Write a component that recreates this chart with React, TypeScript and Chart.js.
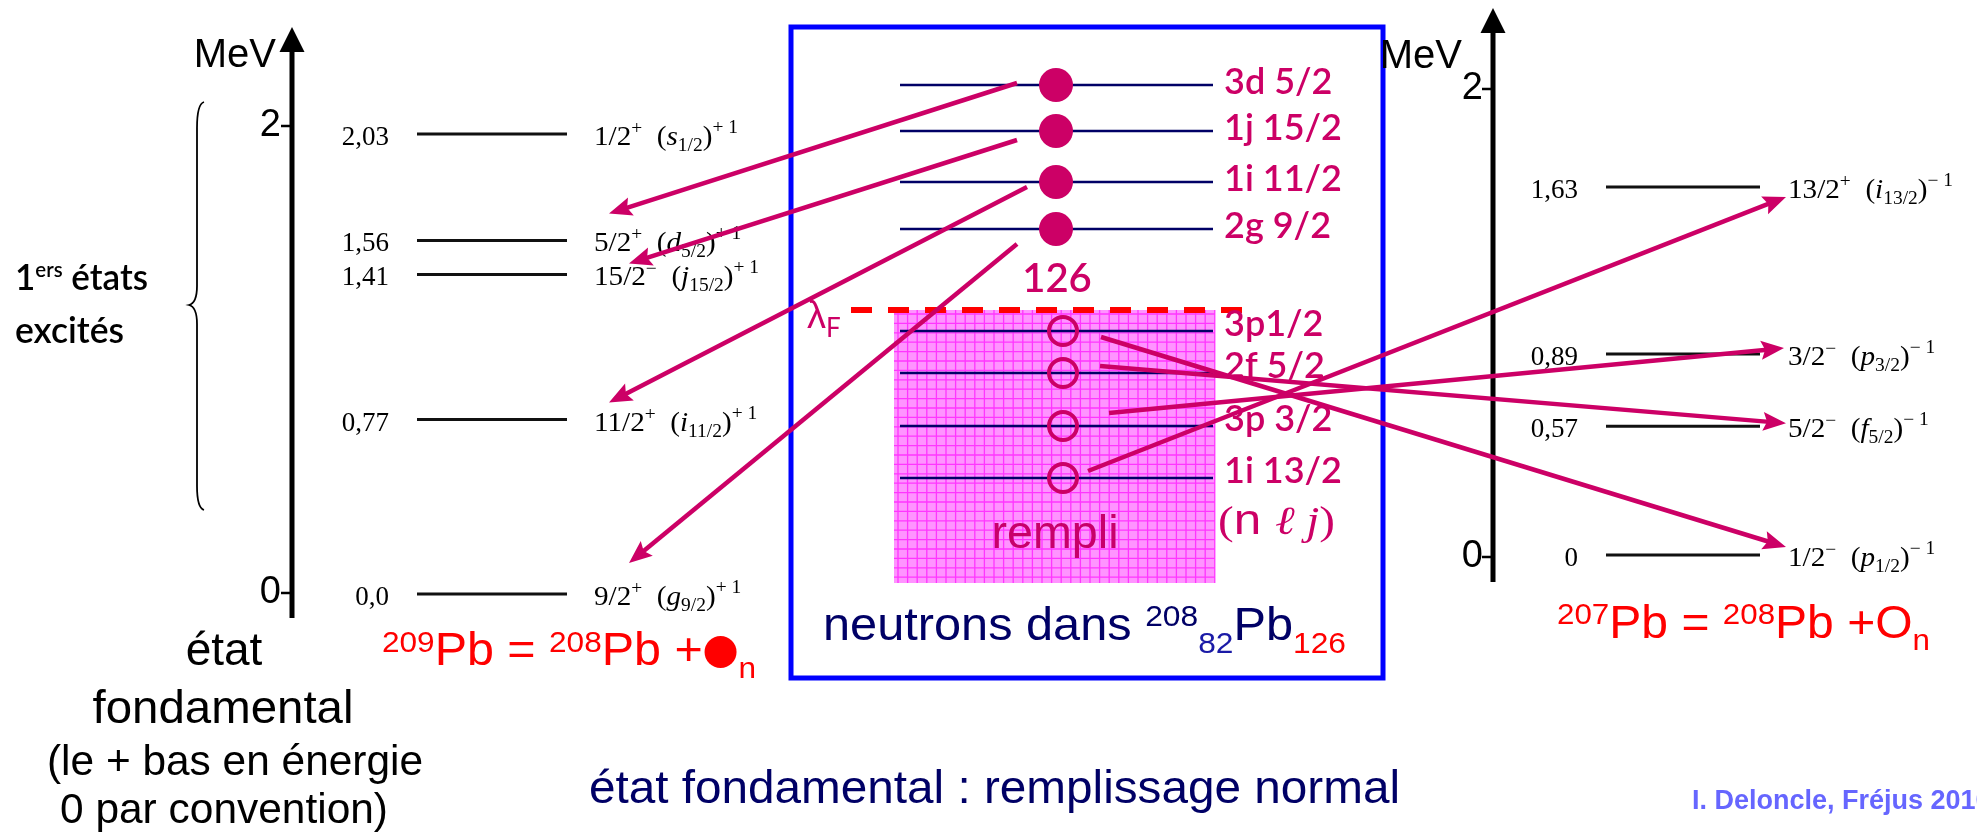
import React, { useEffect, useRef } from "react";
import { Chart, registerables } from "chart.js";

Chart.register(...registerables);

const W = 1977;
const H = 836;

const SANS = "'Liberation Sans', Arial, Helvetica, sans-serif";
const SERIF = "'Liberation Serif', 'Times New Roman', serif";
const ROUND = "Lato, 'Noto Sans', sans-serif";

const MAGENTA = "#CC0066";
const NAVY = "#000066";
const RED = "#FF0000";

// ---------- DATA ----------
// 209Pb = 208Pb + 1 neutron (particle states), energies in MeV
const leftEnergies = [2.03, 1.56, 1.41, 0.77, 0.0];
const leftEnergyLabels = ["2,03", "1,56", "1,41", "0,77", "0,0"];
const leftSpins = ["1/2", "5/2", "15/2", "11/2", "9/2"];
const leftParities = ["+", "+", "\u2212", "+", "+"];
const leftOrbitals = ["s", "d", "j", "i", "g"];

// 207Pb = 208Pb - 1 neutron (hole states), energies in MeV
const rightEnergies = [1.63, 0.89, 0.57, 0];
const rightEnergyLabels = ["1,63", "0,89", "0,57", "0"];
const rightSpins = ["13/2", "3/2", "5/2", "1/2"];
const rightParities = ["+", "\u2212", "\u2212", "\u2212"];
const rightOrbitals = ["i", "p", "f", "p"];

const axisTicks = [0, 2];

// shell-model neutron orbitals in 208Pb (schematic energy, arbitrary units)
const shellAbove = ["3d 5/2", "1j 15/2", "1i 11/2", "2g 9/2"];
const shellAboveE = [10.3, 9.38, 8.36, 7.42];
const shellBelow = ["3p1/2", "2f 5/2", "3p 3/2", "1i 13/2"];
const shellBelowE = [5.38, 4.54, 3.48, 2.44];
const fermiE = 5.8;
const filledBottomE = 0.34;
const magicNumber = "126";

// transitions: orbital index -> level index
const particleTargets = [1, 2, 3, 4];
const holeTargets = [3, 2, 1, 0];

// ---------- LAYOUT (pixels) ----------
const L = { axisX: 292, axisTop: 27, axisBottom: 618, tickLabelRight: 281, lineX1: 417, lineX2: 567, numRight: 389, labelX: 594 };
const R = { axisX: 1493, axisTop: 8, axisBottom: 582, tickLabelRight: 1483, lineX1: 1606, lineX2: 1760, numRight: 1578, labelX: 1788 };
const M = { lineX1: 900, lineX2: 1213, particleX: 1056, holeX: 1063, labelX: 1224, rectX1: 894, rectX2: 1215, fermiX1: 851, fermiX2: 1246 };
const BOX = { x1: 791, y1: 27, x2: 1383, y2: 678 };
const particleArrowOff = [
  { sx: -39, sy: -2, ex: 15, ey: -27 },
  { sx: -39, sy: 9, ex: 35, ey: -11 },
  { sx: -29, sy: 5, ex: 15, ey: -17 },
  { sx: -39, sy: 15, ex: 35, ey: -31 },
];
const holeArrowOff = [
  { sx: 38, sy: 6, ex: -2, ey: -8 },
  { sx: 37, sy: -7, ex: -2, ey: -3 },
  { sx: 46, sy: -13, ex: -4, ey: -6 },
  { sx: 25, sy: -7, ex: -2, ey: 10 },
];

type Seg = { t?: string; font?: string; dy?: number; color?: string; circle?: number; w?: number; cdy?: number };

function drawRich(
  ctx: CanvasRenderingContext2D,
  segs: Seg[],
  x: number,
  y: number,
  o: { align?: "left" | "right" | "center"; scaleX?: number; width?: number; color: string }
) {
  ctx.save();
  const widths = segs.map((s) => {
    if (s.circle) return s.w || 0;
    ctx.font = s.font || `20px ${SANS}`;
    return ctx.measureText(s.t || "").width;
  });
  const total = widths.reduce((a, b) => a + b, 0);
  const sx = o.width ? o.width / total : o.scaleX ?? 1;
  const tw = total * sx;
  let x0 = x;
  if (o.align === "right") x0 = x - tw;
  else if (o.align === "center") x0 = x - tw / 2;
  ctx.translate(x0, y);
  ctx.scale(sx, 1);
  ctx.textAlign = "left";
  ctx.textBaseline = "alphabetic";
  let cx = 0;
  segs.forEach((s, i) => {
    const col = s.color || o.color;
    ctx.fillStyle = col;
    if (s.circle) {
      ctx.beginPath();
      ctx.ellipse(cx + (s.w || 0) / 2, s.cdy || 0, s.circle / sx, s.circle, 0, 0, Math.PI * 2);
      ctx.fill();
    } else {
      ctx.font = s.font || `20px ${SANS}`;
      ctx.fillText(s.t || "", cx, s.dy || 0);
    }
    cx += widths[i];
  });
  ctx.restore();
}

function stateSegs(spin: string, parity: string, orb: string, sign: string): Seg[] {
  return [
    { t: spin, font: `27px ${SERIF}` },
    { t: parity, font: `18px ${SERIF}`, dy: -11 },
    { t: "  (", font: `27px ${SERIF}` },
    { t: orb, font: `italic 27px ${SERIF}` },
    { t: spin, font: `18px ${SERIF}`, dy: 6 },
    { t: ")", font: `27px ${SERIF}` },
    { t: sign + " 1", font: `18px ${SERIF}`, dy: -12 },
  ];
}

function arrow(ctx: CanvasRenderingContext2D, x1: number, y1: number, x2: number, y2: number) {
  const hl = 23;
  const hw = 9.5;
  const a = Math.atan2(y2 - y1, x2 - x1);
  const c = Math.cos(a);
  const s = Math.sin(a);
  const bx = x2 - hl * c;
  const by = y2 - hl * s;
  ctx.save();
  ctx.strokeStyle = MAGENTA;
  ctx.fillStyle = MAGENTA;
  ctx.lineWidth = 4.5;
  ctx.beginPath();
  ctx.moveTo(x1, y1);
  ctx.lineTo(bx + 6 * c, by + 6 * s);
  ctx.stroke();
  ctx.beginPath();
  ctx.moveTo(x2, y2);
  ctx.lineTo(bx + hw * s, by - hw * c);
  ctx.lineTo(bx + 4 * c, by + 4 * s);
  ctx.lineTo(bx - hw * s, by + hw * c);
  ctx.closePath();
  ctx.fill();
  ctx.restore();
}

function drawAxis(ctx: CanvasRenderingContext2D, scale: any, g: typeof L) {
  ctx.save();
  ctx.strokeStyle = "#000";
  ctx.fillStyle = "#000";
  ctx.lineWidth = 5;
  ctx.beginPath();
  ctx.moveTo(g.axisX, g.axisBottom);
  ctx.lineTo(g.axisX, g.axisTop + 20);
  ctx.stroke();
  ctx.beginPath();
  ctx.moveTo(g.axisX, g.axisTop);
  ctx.lineTo(g.axisX - 12.5, g.axisTop + 25);
  ctx.lineTo(g.axisX + 12.5, g.axisTop + 25);
  ctx.closePath();
  ctx.fill();
  ctx.lineWidth = 2.5;
  axisTicks.forEach((v) => {
    const y = scale.getPixelForValue(v);
    ctx.beginPath();
    ctx.moveTo(g.axisX - 11, y);
    ctx.lineTo(g.axisX, y);
    ctx.stroke();
    ctx.font = `38px ${SANS}`;
    ctx.textAlign = "right";
    ctx.textBaseline = "middle";
    ctx.fillText(String(v), g.tickLabelRight, y);
  });
  ctx.restore();
}

const diagramPlugin = {
  id: "diagram",
  beforeDatasetsDraw(chart: any) {
    const ctx: CanvasRenderingContext2D = chart.ctx;
    const s = chart.scales;
    const yM = (v: number) => s.yM.getPixelForValue(v);

    // blue frame
    ctx.save();
    ctx.strokeStyle = "#0000FF";
    ctx.lineWidth = 5;
    ctx.strokeRect(BOX.x1, BOX.y1, BOX.x2 - BOX.x1, BOX.y2 - BOX.y1);
    ctx.restore();

    // filled (occupied) region with grid texture
    const top = yM(fermiE);
    const bot = yM(filledBottomE);
    ctx.save();
    ctx.fillStyle = "#FF94FF";
    ctx.fillRect(M.rectX1, top, M.rectX2 - M.rectX1, bot - top);
    ctx.strokeStyle = "rgba(255,30,255,0.8)";
    ctx.lineWidth = 1.3;
    ctx.beginPath();
    for (let x = M.rectX1 + 4; x < M.rectX2; x += 9.6) {
      ctx.moveTo(x, top);
      ctx.lineTo(x, bot);
    }
    for (let y = top + 4; y < bot; y += 9.4) {
      ctx.moveTo(M.rectX1, y);
      ctx.lineTo(M.rectX2, y);
    }
    ctx.stroke();
    ctx.restore();

    // Fermi level
    ctx.save();
    ctx.strokeStyle = RED;
    ctx.lineWidth = 6;
    ctx.setLineDash([21, 16]);
    ctx.beginPath();
    ctx.moveTo(M.fermiX1, top);
    ctx.lineTo(M.fermiX2, top);
    ctx.stroke();
    ctx.restore();

    // axes
    drawAxis(ctx, s.yLa, L);
    drawAxis(ctx, s.yRa, R as any);

    // brace
    ctx.save();
    ctx.strokeStyle = "#000";
    ctx.lineWidth = 1.8;
    ctx.beginPath();
    ctx.moveTo(204, 102);
    ctx.quadraticCurveTo(197, 104, 197, 128);
    ctx.lineTo(197, 286);
    ctx.quadraticCurveTo(197, 303, 189, 305);
    ctx.quadraticCurveTo(197, 307, 197, 324);
    ctx.lineTo(197, 486);
    ctx.quadraticCurveTo(197, 508, 204, 510);
    ctx.stroke();
    ctx.restore();
  },
  afterDatasetsDraw(chart: any) {
    const ctx: CanvasRenderingContext2D = chart.ctx;
    const s = chart.scales;
    const yM = (v: number) => s.yM.getPixelForValue(v);
    const yL = (v: number) => s.yL.getPixelForValue(v);
    const yR = (v: number) => s.yR.getPixelForValue(v);

    // MeV labels
    drawRich(ctx, [{ t: "MeV", font: `40px ${SANS}` }], 276, 67, { align: "right", color: "#000" });
    drawRich(ctx, [{ t: "MeV", font: `40px ${SANS}` }], 1462, 68, { align: "right", color: "#000" });

    // left level labels
    leftEnergies.forEach((e, i) => {
      const y = yL(e) + 11;
      drawRich(ctx, [{ t: leftEnergyLabels[i], font: `27px ${SERIF}` }], L.numRight, y, { align: "right", scaleX: 1.0, color: "#000" });
      drawRich(ctx, stateSegs(leftSpins[i], leftParities[i], leftOrbitals[i], "+"), L.labelX, y, { scaleX: 1.08, color: "#000" });
    });
    // right level labels
    rightEnergies.forEach((e, i) => {
      const y = yR(e) + 11;
      drawRich(ctx, [{ t: rightEnergyLabels[i], font: `27px ${SERIF}` }], R.numRight, y, { align: "right", scaleX: 1.0, color: "#000" });
      drawRich(ctx, stateSegs(rightSpins[i], rightParities[i], rightOrbitals[i], "\u2212"), R.labelX, y, { scaleX: 1.08, color: "#000" });
    });

    // shell labels
    shellAbove.forEach((t, i) => {
      drawRich(ctx, [{ t, font: `600 36px ${ROUND}` }], M.labelX, yM(shellAboveE[i]) + 9, { color: MAGENTA });
    });
    shellBelow.forEach((t, i) => {
      drawRich(ctx, [{ t, font: `600 36px ${ROUND}` }], M.labelX, yM(shellBelowE[i]) + 5, { color: MAGENTA });
    });
    drawRich(ctx, [{ t: magicNumber, font: `600 40px ${ROUND}` }], 1057, 292, { align: "center", color: MAGENTA });
    drawRich(
      ctx,
      [
        { t: "\u03BB", font: `38px ${SANS}` },
        { t: "F", font: `26px ${ROUND}`, dy: 9 },
      ],
      807,
      yM(fermiE) + 18,
      { color: MAGENTA }
    );
    drawRich(ctx, [{ t: "rempli", font: `46px ${SANS}` }], 1055, 548, { align: "center", width: 127, color: "#C8006A" });
    drawRich(
      ctx,
      [
        { t: "(", font: `40px ${SERIF}` },
        { t: "n ", font: `42px ${SANS}` },
        { t: "\u2113", font: `italic 40px ${SERIF}` },
        { t: " ", font: `40px ${SERIF}` },
        { t: "j", font: `italic 40px ${SERIF}` },
        { t: ")", font: `40px ${SERIF}` },
      ],
      1218,
      534,
      { width: 117, color: MAGENTA }
    );

    // caption inside the frame
    drawRich(
      ctx,
      [
        { t: "neutrons dans ", font: `46px ${SANS}` },
        { t: "208", font: `30px ${SANS}`, dy: -14 },
        { t: "82", font: `30px ${SANS}`, dy: 13, color: "#1A1AA6" },
        { t: "Pb", font: `46px ${SANS}` },
        { t: "126", font: `30px ${SANS}`, dy: 13, color: RED },
      ],
      823,
      640,
      { width: 523, color: NAVY }
    );

    // formulas
    drawRich(
      ctx,
      [
        { t: "209", font: `30px ${SANS}`, dy: -13 },
        { t: "Pb = ", font: `46px ${SANS}` },
        { t: "208", font: `30px ${SANS}`, dy: -13 },
        { t: "Pb +", font: `46px ${SANS}` },
        { circle: 16, w: 34, cdy: -13 },
        { t: "n", font: `30px ${SANS}`, dy: 13 },
      ],
      382,
      665,
      { width: 374, color: RED }
    );
    drawRich(
      ctx,
      [
        { t: "207", font: `30px ${SANS}`, dy: -14 },
        { t: "Pb = ", font: `46px ${SANS}` },
        { t: "208", font: `30px ${SANS}`, dy: -14 },
        { t: "Pb +", font: `46px ${SANS}` },
        { t: "O", font: `46px ${SANS}` },
        { t: "n", font: `30px ${SANS}`, dy: 12 },
      ],
      1557,
      638,
      { width: 373, color: RED }
    );

    // left captions
    drawRich(
      ctx,
      [
        { t: "1", font: `600 36px ${ROUND}` },
        { t: "ers", font: `600 21px ${ROUND}`, dy: -13 },
        { t: " \u00E9tats", font: `600 36px ${ROUND}` },
      ],
      15,
      290,
      { width: 133, color: "#000" }
    );
    drawRich(ctx, [{ t: "excit\u00E9s", font: `600 36px ${ROUND}` }], 15, 343, { width: 109, color: "#000" });

    drawRich(ctx, [{ t: "\u00E9tat", font: `46px ${SANS}` }], 224, 665, { align: "center", color: "#000" });
    drawRich(ctx, [{ t: "fondamental", font: `47px ${SANS}` }], 223, 723, { align: "center", width: 261, color: "#000" });
    drawRich(ctx, [{ t: "(le + bas en \u00E9nergie", font: `42px ${SANS}` }], 235, 775, { align: "center", width: 376, color: "#000" });
    drawRich(ctx, [{ t: "0 par convention)", font: `42px ${SANS}` }], 224, 823, { align: "center", width: 328, color: "#000" });

    // bottom caption
    drawRich(ctx, [{ t: "\u00E9tat fondamental : remplissage normal", font: `47px ${SANS}` }], 589, 803, { width: 811, color: NAVY });

    // credit
    drawRich(ctx, [{ t: "I. Deloncle, Fr\u00E9jus 2010", font: `bold 27px ${SANS}` }], 1692, 809, { color: "#6666FF" });

    // arrows: particle states (209Pb)
    shellAboveE.forEach((e, i) => {
      const o = particleArrowOff[i];
      const tgt = leftEnergies[particleTargets[i]];
      arrow(ctx, M.particleX + o.sx, yM(e) + o.sy, L.labelX + o.ex, yL(tgt) + o.ey);
    });
    // arrows: hole states (207Pb)
    shellBelowE.forEach((e, i) => {
      const o = holeArrowOff[i];
      const tgt = rightEnergies[holeTargets[i]];
      arrow(ctx, M.holeX + o.sx, yM(e) + o.sy, R.labelX + o.ex, yR(tgt) + o.ey);
    });
  },
};

function levelDataset(x1: number, x2: number, e: number, yAxisID: string, color: string, width: number) {
  return {
    data: [
      { x: x1, y: e },
      { x: x2, y: e },
    ],
    xAxisID: "x",
    yAxisID,
    showLine: true,
    borderColor: color,
    backgroundColor: color,
    borderWidth: width,
    pointRadius: 0,
    fill: false,
  };
}

export default function App() {
  const ref = useRef<HTMLCanvasElement>(null);
  useEffect(() => {
    const canvas = ref.current;
    if (!canvas) return;
    const datasets: any[] = [];
    datasets.push({
      label: "particule",
      data: shellAboveE.map((e) => ({ x: M.particleX, y: e })),
      xAxisID: "x",
      yAxisID: "yM",
      pointRadius: 17,
      pointBackgroundColor: MAGENTA,
      pointBorderColor: MAGENTA,
      pointBorderWidth: 0,
      backgroundColor: MAGENTA,
      borderColor: MAGENTA,
      showLine: false,
    });
    datasets.push({
      label: "trou",
      data: shellBelowE.map((e) => ({ x: M.holeX, y: e })),
      xAxisID: "x",
      yAxisID: "yM",
      pointRadius: 14,
      pointBackgroundColor: "rgba(0,0,0,0)",
      pointBorderColor: MAGENTA,
      pointBorderWidth: 4,
      backgroundColor: "rgba(0,0,0,0)",
      borderColor: MAGENTA,
      showLine: false,
    });
    shellAboveE.concat(shellBelowE).forEach((e) => datasets.push(levelDataset(M.lineX1, M.lineX2, e, "yM", NAVY, 2.5)));
    leftEnergies.forEach((e) => datasets.push(levelDataset(L.lineX1, L.lineX2, e, "yL", "#111", 3)));
    rightEnergies.forEach((e) => datasets.push(levelDataset(R.lineX1, R.lineX2, e, "yR", "#111", 3)));

    const hidden = { display: false, grid: { display: false } };
    const chart = new Chart(canvas, {
      type: "scatter",
      data: { datasets },
      options: {
        responsive: false,
        maintainAspectRatio: false,
        devicePixelRatio: 1,
        animation: false,
        events: [],
        layout: { padding: 0, autoPadding: false },
        plugins: { legend: { display: false }, tooltip: { enabled: false } },
        scales: {
          x: { type: "linear", min: 0, max: W, ...hidden },
          y: { type: "linear", axis: "y", min: 0, max: 1, ...hidden },
          yL: { type: "linear", axis: "y", position: "left", min: -1.068, max: 2.6213, ...hidden },
          yLa: { type: "linear", axis: "y", position: "left", min: -1.0407, max: 2.5396, ...hidden },
          yR: { type: "linear", axis: "y", position: "left", min: -1.2445, max: 2.4579, ...hidden },
          yRa: { type: "linear", axis: "y", position: "left", min: -1.1923, max: 2.3803, ...hidden },
          yM: { type: "linear", axis: "y", position: "left", min: -4.72, max: 12.0, ...hidden },
        },
      } as any,
      plugins: [diagramPlugin as any],
    });
    if ((document as any).fonts && (document as any).fonts.ready) {
      (document as any).fonts.ready.then(() => {
        try {
          chart.draw();
        } catch (err) {
          /* ignore */
        }
      });
    }
    return () => chart.destroy();
  }, []);
  return (
    <div style={{ position: "fixed", left: 0, top: 0, width: W, height: H, background: "#fff" }}>
      <canvas ref={ref} width={W} height={H} style={{ display: "block", width: W, height: H }} />
    </div>
  );
}
